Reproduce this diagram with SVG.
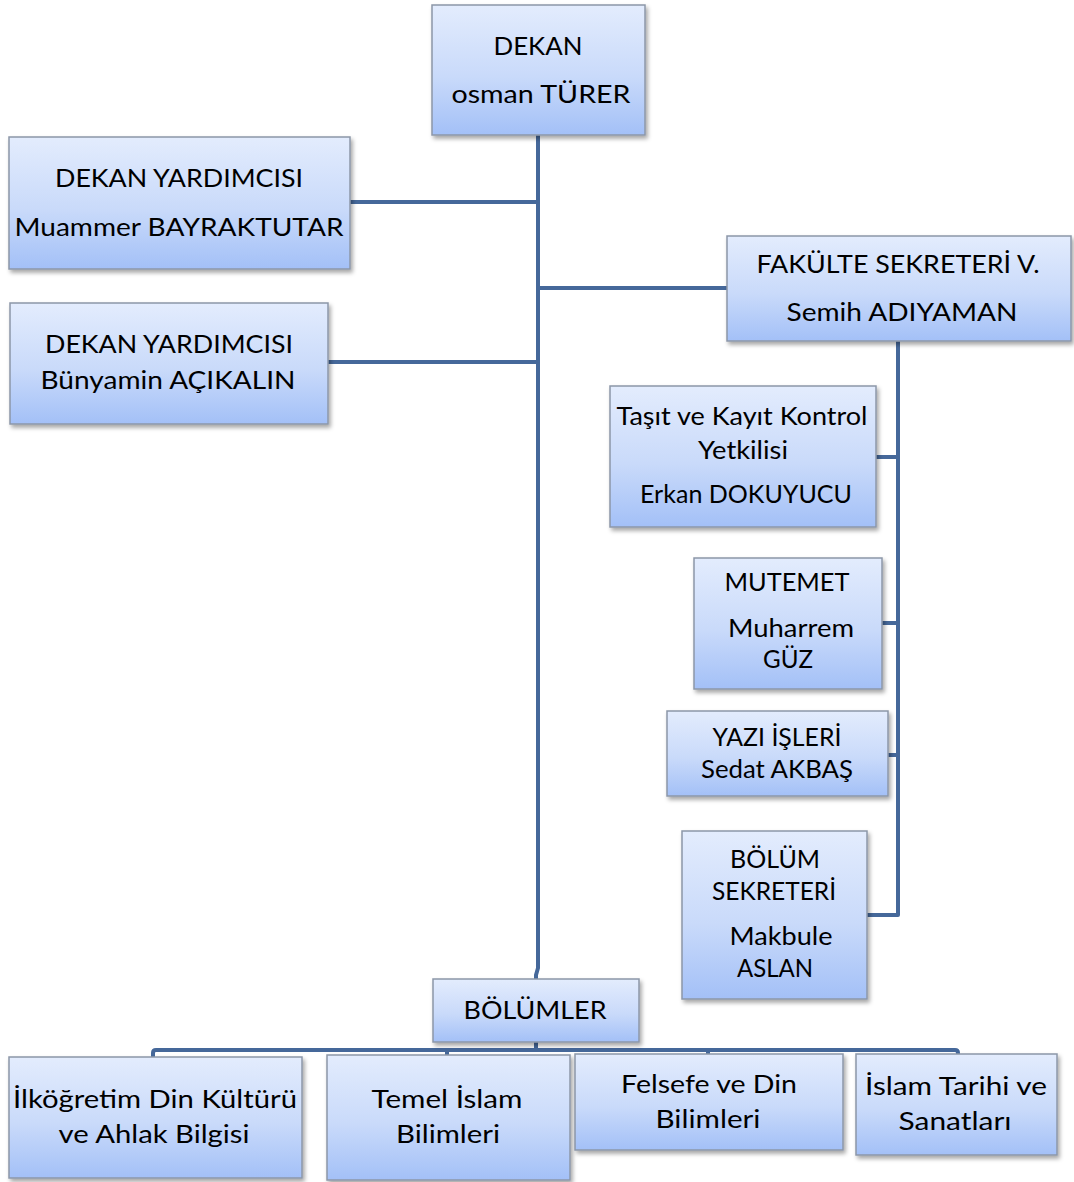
<svg xmlns="http://www.w3.org/2000/svg" width="1074" height="1182" viewBox="0 0 1074 1182">
<defs>
<linearGradient id="g" x1="0" y1="0" x2="0" y2="1">
<stop offset="0" stop-color="#E3ECFD"/>
<stop offset="0.55" stop-color="#C9DAFA"/>
<stop offset="1" stop-color="#A3C0F7"/>
</linearGradient>
<filter id="sh" x="-10%" y="-10%" width="125%" height="130%">
<feDropShadow dx="2" dy="3" stdDeviation="2" flood-color="#000" flood-opacity="0.35"/>
</filter>
</defs>
<style>
.box{fill:url(#g);stroke:#8C97A8;stroke-width:1.5;filter:url(#sh)}
text{font-family:Lato,"Open Sans","Liberation Sans",sans-serif;font-size:25px;fill:#000;text-anchor:middle}
.c{fill:none;stroke:#45689A;stroke-width:4;stroke-linejoin:round;stroke-linecap:butt}
</style>
<g id="connectors">
<path class="c" d="M538 135 V968 L536 975 V979"/>
<path class="c" d="M350 202 H538"/>
<path class="c" d="M328 362 H538"/>
<path class="c" d="M538 288 H727"/>
<path class="c" d="M898 341 V915 H867"/>
<path class="c" d="M876 457 H898"/>
<path class="c" d="M882 623 H898"/>
<path class="c" d="M888 755 H898"/>
<path class="c" d="M536 1042 V1050"/>
<path class="c" d="M153 1057 V1053 Q153 1050 156 1050 H955 Q958 1050 958 1053 V1054"/>
<path class="c" d="M447 1050 V1055"/>
<path class="c" d="M708 1050 V1054"/>
</g>
<g id="dekan"><rect class="box" x="432" y="5" width="213" height="130"/>
<text x="538" y="55" textLength="89" lengthAdjust="spacingAndGlyphs">DEKAN</text>
<text x="541" y="103" textLength="179" lengthAdjust="spacingAndGlyphs">osman TÜRER</text></g>
<g id="dy1"><rect class="box" x="9" y="137" width="341" height="132"/>
<text x="179" y="187" textLength="248" lengthAdjust="spacingAndGlyphs">DEKAN YARDIMCISI</text>
<text x="179" y="236" textLength="329" lengthAdjust="spacingAndGlyphs">Muammer BAYRAKTUTAR</text></g>
<g id="dy2"><rect class="box" x="10" y="303" width="318" height="121"/>
<text x="169" y="353" textLength="248" lengthAdjust="spacingAndGlyphs">DEKAN YARDIMCISI</text>
<text x="168" y="389" textLength="255" lengthAdjust="spacingAndGlyphs">Bünyamin AÇIKALIN</text></g>
<g id="fs"><rect class="box" x="727" y="236" width="344" height="105"/>
<text x="898" y="273" textLength="283" lengthAdjust="spacingAndGlyphs">FAKÜLTE SEKRETERİ V.</text>
<text x="902" y="321" textLength="231" lengthAdjust="spacingAndGlyphs">Semih ADIYAMAN</text></g>
<g id="tasit"><rect class="box" x="610" y="386" width="266" height="141"/>
<text x="742" y="425" textLength="251" lengthAdjust="spacingAndGlyphs">Taşıt ve Kayıt Kontrol</text>
<text x="743" y="459" textLength="90" lengthAdjust="spacingAndGlyphs">Yetkilisi</text>
<text x="746" y="503" textLength="212" lengthAdjust="spacingAndGlyphs">Erkan DOKUYUCU</text></g>
<g id="mutemet"><rect class="box" x="694" y="558" width="188" height="131"/>
<text x="787" y="591" textLength="125" lengthAdjust="spacingAndGlyphs">MUTEMET</text>
<text x="791" y="637" textLength="126" lengthAdjust="spacingAndGlyphs">Muharrem</text>
<text x="788" y="668" textLength="50" lengthAdjust="spacingAndGlyphs">GÜZ</text></g>
<g id="yazi"><rect class="box" x="667" y="711" width="221" height="85"/>
<text x="777" y="746" textLength="129" lengthAdjust="spacingAndGlyphs">YAZI İŞLERİ</text>
<text x="777" y="778" textLength="152" lengthAdjust="spacingAndGlyphs">Sedat AKBAŞ</text></g>
<g id="bsek"><rect class="box" x="682" y="831" width="185" height="168"/>
<text x="775" y="868" textLength="90" lengthAdjust="spacingAndGlyphs">BÖLÜM</text>
<text x="774" y="900" textLength="124" lengthAdjust="spacingAndGlyphs">SEKRETERİ</text>
<text x="781" y="945" textLength="103" lengthAdjust="spacingAndGlyphs">Makbule</text>
<text x="775" y="977" textLength="76" lengthAdjust="spacingAndGlyphs">ASLAN</text></g>
<g id="bolumler"><rect class="box" x="433" y="979" width="206" height="63"/>
<text x="535" y="1019" textLength="143" lengthAdjust="spacingAndGlyphs">BÖLÜMLER</text></g>
<g id="ilk"><rect class="box" x="9" y="1057" width="293" height="121"/>
<text x="155" y="1108" textLength="284" lengthAdjust="spacingAndGlyphs">İlköğretim Din Kültürü</text>
<text x="154" y="1143" textLength="191" lengthAdjust="spacingAndGlyphs">ve Ahlak Bilgisi</text></g>
<g id="temel"><rect class="box" x="327" y="1055" width="243" height="125"/>
<text x="447" y="1108" textLength="151" lengthAdjust="spacingAndGlyphs">Temel İslam</text>
<text x="448" y="1143" textLength="104" lengthAdjust="spacingAndGlyphs">Bilimleri</text></g>
<g id="felsefe"><rect class="box" x="575" y="1054" width="268" height="96"/>
<text x="709" y="1093" textLength="176" lengthAdjust="spacingAndGlyphs">Felsefe ve Din</text>
<text x="708" y="1128" textLength="105" lengthAdjust="spacingAndGlyphs">Bilimleri</text></g>
<g id="islam"><rect class="box" x="856" y="1054" width="201" height="101"/>
<text x="956" y="1095" textLength="182" lengthAdjust="spacingAndGlyphs">İslam Tarihi ve</text>
<text x="955" y="1130" textLength="113" lengthAdjust="spacingAndGlyphs">Sanatları</text></g>
</svg>
